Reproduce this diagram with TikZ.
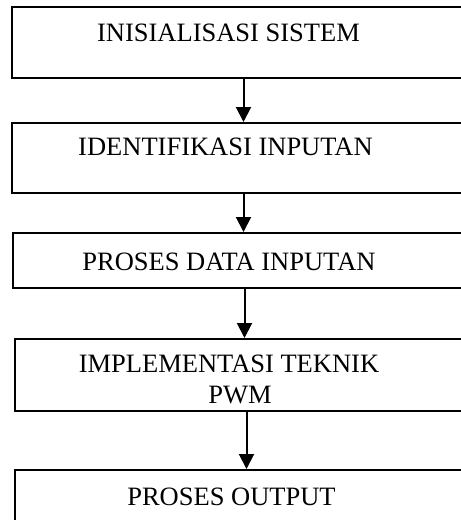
\documentclass[tikz,border=0pt]{standalone}
\usepackage{fontspec}
\setmainfont{Liberation Serif}
\usetikzlibrary{arrows.meta}

\begin{document}
\begin{tikzpicture}[x=1pt, y=-1pt,
    proc/.style={draw, line width=2pt, inner sep=0pt, minimum width=463pt},
    txt/.style={anchor=base, inner sep=0pt, font=\fontsize{26.5}{31}\selectfont},
    flow/.style={-{Triangle[length=15pt, width=15pt]}, line width=2pt}]
        \useasboundingbox (0,0) rectangle (461,520);
        \clip (0,0) rectangle (461,520);

        % boxes
        \node[proc, minimum height=71pt] (s1) at (243.5,42.5) {};
        \node[proc, minimum height=70pt] (s2) at (243.5,158) {};
        \node[proc, minimum height=55pt] (s3) at (244.5,260.5) {};
        \node[proc, minimum height=72pt] (s4) at (246.5,375) {};
        \node[proc, minimum height=71pt] (s5) at (246.5,505.5) {};

        % texts
        \node[txt] (t1) at (228.5,41) {INISIALISASI SISTEM};
        \node[txt] (t2) at (225.5,155) {IDENTIFIKASI INPUTAN};
        \node[txt] (t3) at (229,270) {PROSES DATA INPUTAN};
        \node[txt, align=center] (t4) at (229,403) {IMPLEMENTASI TEKNIK\\\hspace*{22pt}PWM};
        \node[txt] (t5) at (231.5,505) {PROSES OUTPUT};

        % arrows
        \draw[flow] (s1.south) -- (s1.south |- s2.north);
        \draw[flow] (s2.south) -- (s2.south |- s3.north);
        \draw[flow] (s3.south) -- (s3.south |- s4.north);
        \draw[flow] (s4.south) -- (s4.south |- s5.north);
\end{tikzpicture}
\end{document}
